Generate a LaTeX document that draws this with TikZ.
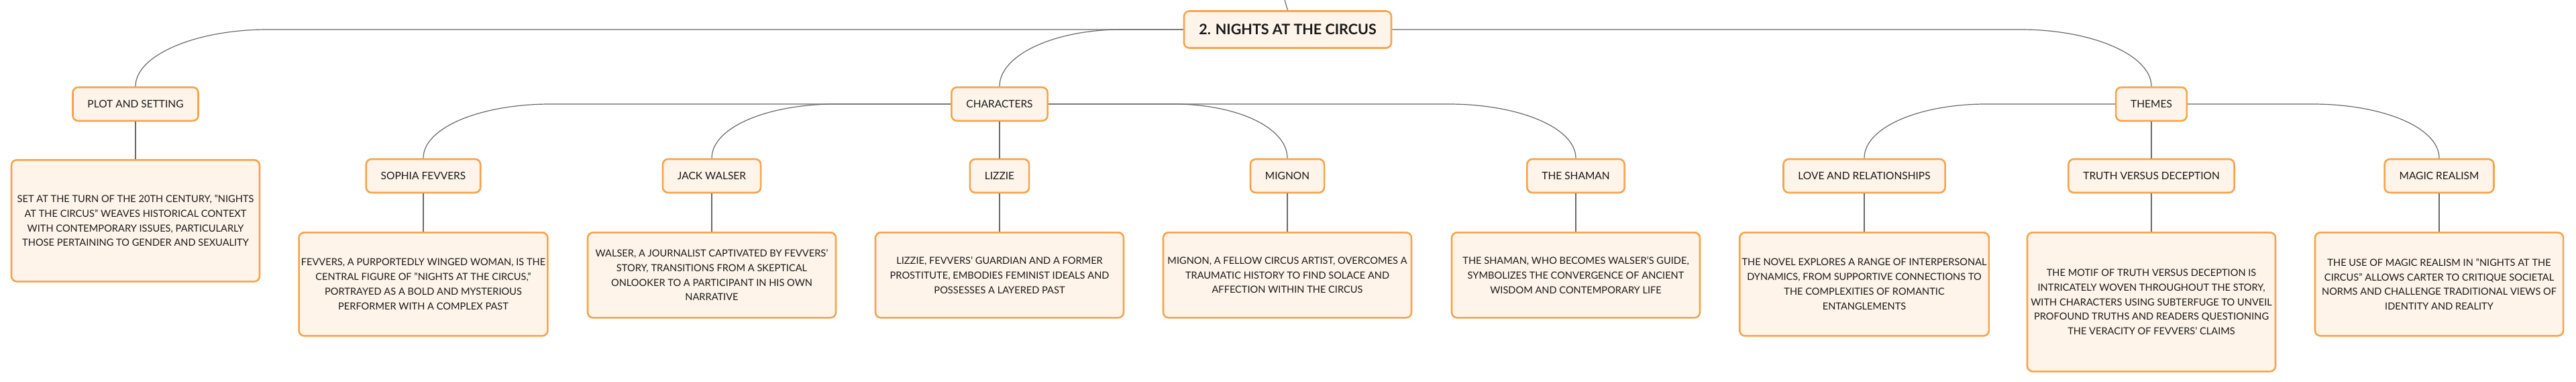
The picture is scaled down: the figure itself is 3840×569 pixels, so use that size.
\documentclass[tikz,border=0pt]{standalone}
\usepackage{fontspec}
\setmainfont{Lato}
\definecolor{edge}{RGB}{245, 164, 76}
\definecolor{cream}{RGB}{254, 244, 234}
\definecolor{wire}{RGB}{105, 105, 105}
\definecolor{ink}{RGB}{25, 25, 25}
\usepackage{tikz}
\usetikzlibrary{calc,positioning}

\tikzset{
  box/.style={draw=edge, fill=cream, line width=2.6pt, rounded corners=8pt, text=ink, align=center},
  rootbox/.style={box, minimum width=309pt, minimum height=55pt, font=\fontsize{21.5}{24}\selectfont\bfseries},
  headbox/.style={box, minimum height=50pt, inner xsep=22pt, font=\fontsize{15.5}{18}\selectfont},
  descbox/.style={box, anchor=north, minimum width=370pt, font=\fontsize{14.6}{21.7}\selectfont},
  link/.style={draw=wire, line width=1.2pt},
}

\begin{document}
\begin{tikzpicture}[x=1pt, y=-1pt]
  \useasboundingbox (0,0) rectangle (3840,569);

  % root and main branches
  \node[rootbox] (root) at (1919.5,44) {2. NIGHTS AT THE CIRCUS};
  \coordinate (up) at (1915,0);
  \node[headbox] (plot) at (202,155) {PLOT AND SETTING};
  \node[headbox] (chars) at (1490,155) {CHARACTERS};
  \node[headbox] (themes) at (3207,155) {THEMES};

  % second level
  \node[headbox] (sophia) at (631,262) {SOPHIA FEVVERS};
  \node[headbox] (walser) at (1061,262) {JACK WALSER};
  \node[headbox] (lizzie) at (1490,262) {LIZZIE};
  \node[headbox] (mignon) at (1919,262) {MIGNON};
  \node[headbox] (shaman) at (2349,262) {THE SHAMAN};
  \node[headbox] (love) at (2779,262) {LOVE AND RELATIONSHIPS};
  \node[headbox] (truth) at (3207,262) {TRUTH VERSUS DECEPTION};
  \node[headbox] (magic) at (3636,262) {MAGIC REALISM};

  % descriptions
  \node[descbox, minimum height=181pt] (plotText) at (202,237)
    {SET AT THE TURN OF THE 20TH CENTURY, "NIGHTS\\AT THE CIRCUS" WEAVES HISTORICAL CONTEXT\\WITH CONTEMPORARY ISSUES, PARTICULARLY\\THOSE PERTAINING TO GENDER AND SEXUALITY};
  \node[descbox, minimum height=154pt] (sophiaText) at (631,345)
    {FEVVERS, A PURPORTEDLY WINGED WOMAN, IS THE\\CENTRAL FIGURE OF "NIGHTS AT THE CIRCUS,"\\PORTRAYED AS A BOLD AND MYSTERIOUS\\PERFORMER WITH A COMPLEX PAST};
  \node[descbox, minimum height=127pt] (walserText) at (1061,345)
    {WALSER, A JOURNALIST CAPTIVATED BY FEVVERS'\\STORY, TRANSITIONS FROM A SKEPTICAL\\ONLOOKER TO A PARTICIPANT IN HIS OWN\\NARRATIVE};
  \node[descbox, minimum height=127pt] (lizzieText) at (1490,345)
    {LIZZIE, FEVVERS' GUARDIAN AND A FORMER\\PROSTITUTE, EMBODIES FEMINIST IDEALS AND\\POSSESSES A LAYERED PAST};
  \node[descbox, minimum height=127pt] (mignonText) at (1919,345)
    {MIGNON, A FELLOW CIRCUS ARTIST, OVERCOMES A\\TRAUMATIC HISTORY TO FIND SOLACE AND\\AFFECTION WITHIN THE CIRCUS};
  \node[descbox, minimum height=127pt] (shamanText) at (2349,345)
    {THE SHAMAN, WHO BECOMES WALSER'S GUIDE,\\SYMBOLIZES THE CONVERGENCE OF ANCIENT\\WISDOM AND CONTEMPORARY LIFE};
  \node[descbox, minimum height=154pt] (loveText) at (2779,345)
    {THE NOVEL EXPLORES A RANGE OF INTERPERSONAL\\DYNAMICS, FROM SUPPORTIVE CONNECTIONS TO\\THE COMPLEXITIES OF ROMANTIC\\ENTANGLEMENTS};
  \node[descbox, minimum height=207pt] (truthText) at (3207,345)
    {THE MOTIF OF TRUTH VERSUS DECEPTION IS\\INTRICATELY WOVEN THROUGHOUT THE STORY,\\WITH CHARACTERS USING SUBTERFUGE TO UNVEIL\\PROFOUND TRUTHS AND READERS QUESTIONING\\THE VERACITY OF FEVVERS' CLAIMS};
  \node[descbox, minimum height=154pt] (magicText) at (3636,345)
    {THE USE OF MAGIC REALISM IN "NIGHTS AT THE\\CIRCUS" ALLOWS CARTER TO CRITIQUE SOCIETAL\\NORMS AND CHALLENGE TRADITIONAL VIEWS OF\\IDENTITY AND REALITY};

  % connectors
  \draw[link] (root.north) -- (up);
  \draw[link] (root.west) -- ($(plot.north |- root.west)+(197,0)$) .. controls +(-106,0) and +(0,-47) .. (plot.north);
  \draw[link] (root.west) -- ($(chars.north |- root.west)+(182,0)$) .. controls +(-100,0) and +(0,-47) .. (chars.north);
  \draw[link] (root.east) -- ($(themes.north |- root.east)+(-195,0)$) .. controls +(106,0) and +(0,-47) .. (themes.north);
  \draw[link] (chars.west) -- ($(sophia.north |- chars.west)+(190,0)$) .. controls +(-104,0) and +(0,-46) .. (sophia.north);
  \draw[link] (chars.west) -- ($(walser.north |- chars.west)+(185,0)$) .. controls +(-102,0) and +(0,-46) .. (walser.north);
  \draw[link] (chars.south) -- (lizzie.north);
  \draw[link] (chars.east) -- ($(mignon.north |- chars.east)+(-170,0)$) .. controls +(94,0) and +(0,-46) .. (mignon.north);
  \draw[link] (chars.east) -- ($(shaman.north |- chars.east)+(-190,0)$) .. controls +(104,0) and +(0,-46) .. (shaman.north);
  \draw[link] (themes.west) -- ($(love.north |- themes.west)+(182,0)$) .. controls +(-100,0) and +(0,-46) .. (love.north);
  \draw[link] (themes.south) -- (truth.north);
  \draw[link] (themes.east) -- ($(magic.north |- themes.east)+(-189,0)$) .. controls +(104,0) and +(0,-46) .. (magic.north);
  \foreach \n in {plot,sophia,walser,lizzie,mignon,shaman,love,truth,magic}
    \draw[link] (\n.south) -- (\n Text.north);
\end{tikzpicture}
\end{document}
